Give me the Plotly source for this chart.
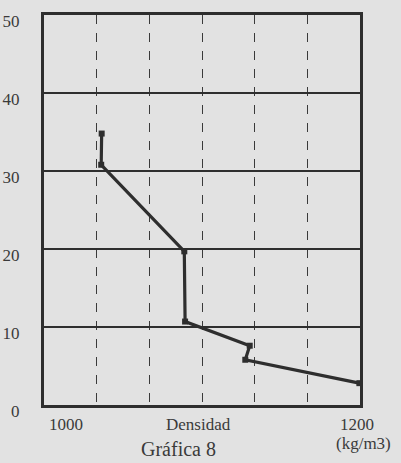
import plotly.graph_objects as go

# Data
densidad = [1036.5, 1036.2, 1088.8, 1089.3, 1130.2, 1127.4, 1199.6]   # kg/m3
profundidad = [34.8, 30.8, 19.7, 10.7, 7.6, 5.8, 2.8]
y_ticks = [0, 10, 20, 30, 40, 50]
x_labels = {1000: "1000", 1200: "1200"}

BG = "#e2e2e2"
INK = "#2e2e2e"
FONT = "Liberation Serif"

fig = go.Figure()
fig.add_trace(go.Scatter(
    x=densidad, y=profundidad, mode="lines+markers",
    line=dict(color=INK, width=3.2),
    marker=dict(symbol="square", size=6, color=INK),
    showlegend=False, hoverinfo="skip", cliponaxis=False,
))

annotations = []
for v, t in x_labels.items():
    annotations.append(dict(
        x=v, y=0, xref="x", yref="y", text=t, showarrow=False,
        xanchor="left" if v == 1000 else "center", yanchor="top",
        xshift=3 if v == 1000 else -3, yshift=-8,
        font=dict(family=FONT, size=17, color="#3a3a3a"),
    ))
annotations += [
    dict(x=0.49, y=0, xref="paper", yref="paper", text="Densidad", showarrow=False,
         xanchor="center", yanchor="top", yshift=-8,
         font=dict(family=FONT, size=17, color="#3a3a3a")),
    dict(x=0.425, y=0, xref="paper", yref="paper", text="Gráfica 8", showarrow=False,
         xanchor="center", yanchor="top", yshift=-31,
         font=dict(family=FONT, size=20, color="#3a3a3a")),
    dict(x=1.01, y=0, xref="paper", yref="paper", text="(kg/m3)", showarrow=False,
         xanchor="center", yanchor="top", yshift=-27,
         font=dict(family=FONT, size=17, color="#3a3a3a")),
]

fig.update_layout(
    width=401, height=463,
    margin=dict(l=44, r=41, t=15, b=58),
    paper_bgcolor=BG, plot_bgcolor=BG,
    annotations=annotations,
    xaxis=dict(
        range=[1000, 1200], tick0=1000, dtick=200 / 6,
        showticklabels=False, ticks="", automargin=False,
        showgrid=True, gridcolor="#3a3a3a", gridwidth=1.4, griddash="dash",
        showline=True, linecolor=INK, linewidth=3, mirror=True, zeroline=False,
    ),
    yaxis=dict(
        range=[0, 50], tickvals=y_ticks, ticktext=[str(v) for v in y_ticks],
        ticks="", ticklabelstandoff=18, ticklabelshift=6, automargin=False,
        tickfont=dict(family=FONT, size=17, color="#3a3a3a"),
        showgrid=True, gridcolor="#2e2e2e", gridwidth=1.6,
        showline=True, linecolor=INK, linewidth=3, mirror=True, zeroline=False,
    ),
)

fig.write_html(
    "out.html",
    config={"displayModeBar": False},
    post_script="document.body.style.margin='0px';document.body.style.background='#e2e2e2';",
)
